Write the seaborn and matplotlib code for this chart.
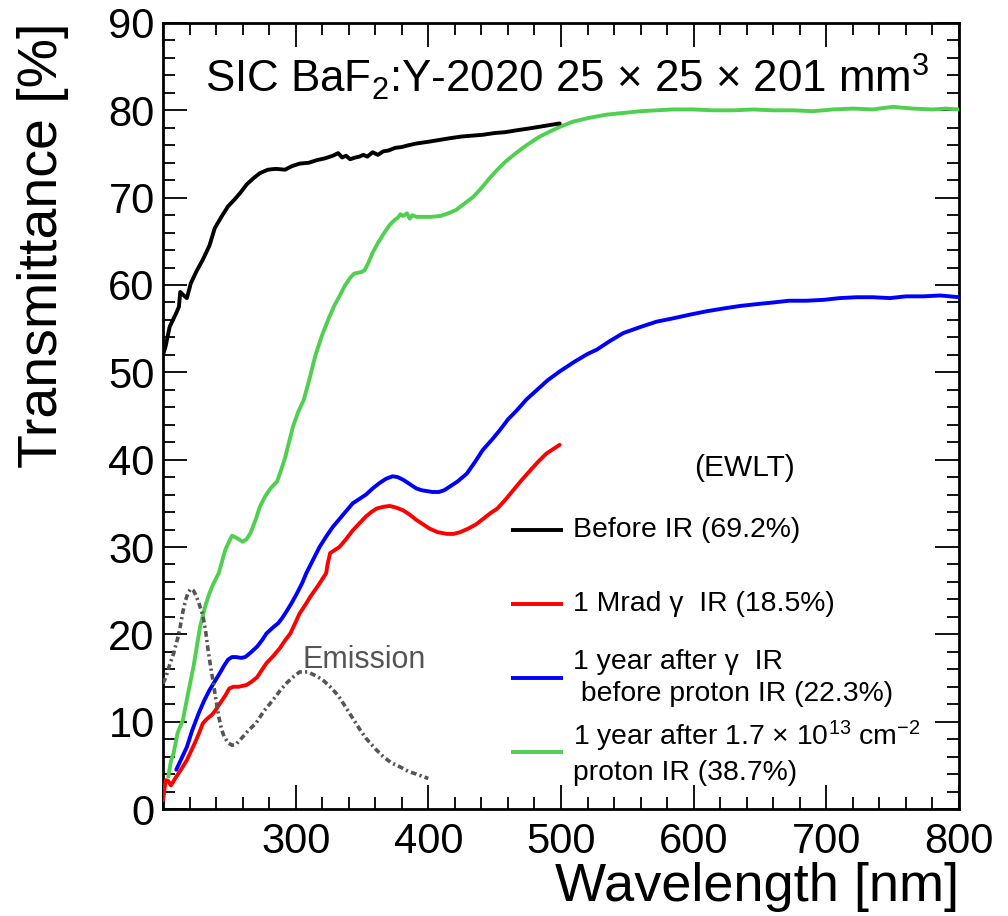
import numpy as np
import pandas as pd
import matplotlib
matplotlib.use("Agg")
import matplotlib.pyplot as plt
from matplotlib.ticker import MultipleLocator, FuncFormatter
import seaborn as sns

# ---- transmittance spectra (wavelength in nm, transmittance in %) ----
wl_before = [200, 202, 205, 210, 212, 213, 215, 218, 221, 225, 230, 235, 239, 244, 249,
             254, 258, 263, 268, 273, 279, 285, 292, 297, 303, 310, 316, 322, 328, 332,
             335, 338, 341, 345, 348, 351, 354, 358, 362, 366, 370, 375, 380, 385, 391,
             400, 408, 416, 425, 433, 441, 450, 458, 466, 475, 483, 491, 499]
t_before = [52.0, 53.0, 55.2, 56.8, 57.5, 59.2, 58.9, 58.5, 60.2, 61.5, 62.9, 64.5, 66.5,
            67.8, 69.0, 69.8, 70.5, 71.5, 72.2, 72.8, 73.2, 73.3, 73.2, 73.6, 73.9, 74.0,
            74.3, 74.5, 74.8, 75.1, 74.6, 74.8, 74.4, 74.6, 74.7, 74.9, 74.7, 75.2, 74.9,
            75.3, 75.4, 75.7, 75.8, 76.0, 76.2, 76.4, 76.6, 76.8, 77.0, 77.1, 77.2, 77.4,
            77.5, 77.7, 77.9, 78.1, 78.3, 78.5]

wl_gamma = [200, 202, 204, 206, 208, 210, 214, 218, 222, 225, 228, 230, 233, 237, 240,
            243, 247, 250, 253, 257, 260, 263, 267, 271, 274, 278, 283, 288, 292, 296,
            300, 303, 307, 311, 317, 323, 324, 326, 330, 333, 338, 343, 348, 353, 357,
            361, 366, 371, 376, 381, 386, 391, 396, 401, 407, 414, 419, 424, 430, 436,
            442, 447, 452, 458, 464, 470, 477, 483, 489, 494, 499]
t_gamma = [1.0, 3.3, 3.2, 2.7, 3.2, 3.7, 4.6, 5.6, 6.9, 7.9, 9.0, 9.8, 10.3, 10.8, 11.4,
           12.1, 13.0, 13.8, 14.0, 14.0, 14.1, 14.2, 14.6, 15.1, 15.8, 16.7, 17.5, 18.4,
           19.3, 20.1, 21.4, 22.4, 23.3, 24.3, 25.6, 27.0, 28.0, 29.3, 29.7, 30.0, 30.9,
           31.9, 32.7, 33.5, 34.0, 34.4, 34.6, 34.7, 34.5, 34.2, 33.7, 33.1, 32.6, 32.1,
           31.7, 31.5, 31.5, 31.7, 32.1, 32.6, 33.3, 33.9, 34.4, 35.4, 36.5, 37.6, 38.8,
           39.8, 40.7, 41.2, 41.7]

wl_year = [210, 214, 218, 222, 227, 231, 235, 239, 243, 246, 249, 252, 255, 259, 262,
           266, 271, 275, 278, 283, 287, 290, 293, 297, 301, 305, 308, 313, 318, 323,
           328, 333, 338, 343, 348, 353, 358, 363, 368, 373, 377, 381, 386, 391, 395,
           399, 403, 408, 412, 416, 422, 429, 435, 441, 448, 454, 460, 467, 474, 482,
           490, 499, 510, 520, 527, 537, 547, 560, 572, 585, 597, 610, 622, 635, 647,
           660, 672, 685, 698, 710, 723, 735, 748, 760, 773, 786, 800]
t_year = [4.5, 5.8, 7.1, 9.0, 11.0, 12.4, 13.6, 14.6, 15.6, 16.4, 17.1, 17.4, 17.4, 17.3,
          17.4, 17.9, 18.6, 19.4, 20.1, 20.8, 21.3, 21.9, 22.6, 23.6, 24.7, 25.9, 27.0,
          28.5, 30.0, 31.2, 32.3, 33.2, 34.1, 35.0, 35.5, 36.0, 36.7, 37.3, 37.8, 38.1,
          38.0, 37.7, 37.2, 36.7, 36.5, 36.4, 36.3, 36.3, 36.5, 36.9, 37.5, 38.4, 39.7,
          41.1, 42.3, 43.4, 44.6, 45.7, 46.9, 48.0, 49.1, 50.1, 51.2, 52.1, 52.6, 53.6,
          54.5, 55.2, 55.8, 56.2, 56.6, 57.0, 57.3, 57.6, 57.8, 58.0, 58.2, 58.2, 58.3,
          58.5, 58.6, 58.6, 58.5, 58.7, 58.7, 58.8, 58.6]

wl_proton = [204, 206, 208, 211, 215, 219, 223, 228, 232, 235, 238, 242, 247, 252, 256,
             260, 263, 266, 270, 273, 277, 281, 284, 286, 289, 292, 295, 298, 302, 306,
             310, 315, 320, 325, 329, 333, 337, 341, 344, 347, 350, 352, 355, 358, 362,
             366, 371, 375, 377, 379, 381, 384, 386, 388, 391, 396, 402, 409, 415, 421,
             427, 434, 440, 446, 452, 458, 466, 474, 484, 492, 499, 509, 520, 534, 547,
             560, 572, 584, 600, 615, 630, 645, 660, 675, 690, 705, 720, 735, 750, 765,
             780, 790, 800]
t_proton = [3.7, 5.5, 6.4, 8.7, 10.2, 13.3, 16.3, 20.9, 23.3, 24.7, 25.8, 27.0, 29.7,
            31.3, 31.0, 30.6, 30.9, 31.6, 33.2, 34.6, 35.8, 36.7, 37.2, 37.5, 38.8, 40.2,
            42.0, 43.8, 45.5, 46.8, 49.0, 52.0, 54.3, 56.2, 57.6, 58.7, 59.9, 60.8, 61.3,
            61.4, 61.5, 61.7, 62.6, 63.7, 64.8, 65.8, 66.9, 67.5, 67.7, 68.1, 67.9, 68.2,
            67.6, 68.0, 67.8, 67.8, 67.8, 67.9, 68.2, 68.6, 69.3, 70.1, 71.1, 72.2, 73.2,
            74.1, 75.1, 76.0, 77.0, 77.6, 78.1, 78.7, 79.1, 79.5, 79.7, 79.9, 80.0, 80.1,
            80.1, 80.0, 80.0, 80.1, 80.0, 80.0, 79.9, 80.1, 80.2, 80.1, 80.4, 80.2, 80.1,
            80.2, 80.1]

# ---- scintillation emission spectrum (arbitrary units) ----
wl_emission = [200, 202, 205, 208, 211, 213, 215, 217, 219, 221, 223, 225, 227, 230, 232,
               234, 236, 238, 240, 242, 244, 246, 249, 252, 255, 258, 261, 265, 270, 276,
               283, 288, 293, 298, 303, 309, 316, 321, 326, 332, 338, 343, 348, 353, 360,
               366, 372, 379, 385, 391, 396, 400]
i_emission = [14.4, 15.0, 16.5, 17.8, 19.5, 20.9, 22.6, 23.9, 24.8, 25.2, 25.0, 24.4, 23.6,
              22.2, 20.5, 18.2, 16.2, 14.4, 12.4, 10.6, 9.2, 8.3, 7.6, 7.3, 7.4, 7.9, 8.4,
              9.1, 9.8, 11.2, 12.5, 13.5, 14.4, 15.1, 15.7, 15.7, 15.2, 14.7, 14.0, 13.0,
              11.6, 10.4, 9.2, 8.1, 6.9, 6.0, 5.3, 4.8, 4.3, 4.0, 3.7, 3.5]

labels = ["Before IR (69.2%)",
          "1 Mrad γ  IR (18.5%)",
          "1 year after γ  IR\n before proton IR (22.3%)",
          "1 year after 1.7 × 10$^{13}$ cm$^{-2}$\nproton IR (38.7%)"]
colors = ["#000000", "#ff0000", "#0000ff", "#50d050"]
series_wl = [wl_before, wl_gamma, wl_year, wl_proton]
series_t = [t_before, t_gamma, t_year, t_proton]

frames = []
for lab, w, t in zip(labels, series_wl, series_t):
    frames.append(pd.DataFrame({"wavelength": w, "transmittance": t, "sample": lab}))
df = pd.concat(frames, ignore_index=True)
emis = pd.DataFrame({"wavelength": wl_emission, "intensity": i_emission})

sns.set_theme(style="ticks")
plt.rcParams["font.family"] = ["Liberation Sans", "DejaVu Sans"]
plt.rcParams["mathtext.fontset"] = "custom"
plt.rcParams["mathtext.rm"] = "Liberation Sans"
plt.rcParams["mathtext.it"] = "Liberation Sans:italic"
for key in ["text.color", "axes.labelcolor", "xtick.color", "ytick.color",
            "axes.edgecolor"]:
    plt.rcParams[key] = "black"

fig = plt.figure(figsize=(10.08, 9.16), dpi=100)
ax = fig.add_axes([0.1617, 0.1168, 0.7897, 0.8581])

lw = 2.8
draw_order = [3, 2, 1, 0]
for k in draw_order:
    sub = df[df["sample"] == labels[k]]
    sns.lineplot(data=sub, x="wavelength", y="transmittance", ax=ax, color=colors[k],
                 lw=lw, sort=False, estimator=None, legend=False, zorder=3 + (3 - k))

sns.lineplot(data=emis, x="wavelength", y="intensity", ax=ax, color="#555555",
             lw=2.6, sort=False, estimator=None, legend=False, zorder=8,
             linestyle=(0, (1.6, 0.9, 0.6, 0.9)))

# ---- axes styling ----
ax.set_xlim(200, 800)
ax.set_ylim(0, 90)
ax.xaxis.set_major_locator(MultipleLocator(100))
ax.xaxis.set_minor_locator(MultipleLocator(20))
ax.yaxis.set_major_locator(MultipleLocator(10))
ax.yaxis.set_minor_locator(MultipleLocator(2))
ax.xaxis.set_major_formatter(FuncFormatter(lambda v, p: "" if v <= 200 else f"{v:.0f}"))
ax.tick_params(which="both", direction="in", top=True, right=True, width=1.3,
               color="black")
ax.tick_params(which="major", length=17, labelsize=30)
ax.tick_params(which="minor", length=8.5)
ax.tick_params(axis="x", which="major", pad=9)
ax.tick_params(axis="y", which="major", pad=6)
for sp in ax.spines.values():
    sp.set_linewidth(2.0)
    sp.set_color("black")

ax.set_xlabel("Wavelength [nm]", fontsize=39, loc="right", labelpad=0)
ax.set_ylabel("Transmittance [%]", fontsize=40, loc="top", labelpad=28)

# ---- annotations ----
ax.text(0.053, 0.911, "SIC BaF$_2$:Y-2020 25 × 25 × 201 mm$^3$", transform=ax.transAxes,
        fontsize=31.6, ha="left", va="baseline")
ax.text(305, 17.1, "Emission", fontsize=22, color="#555555", ha="left", va="center")

# ---- legend ----
ax.text(0.731, 0.434, "(EWLT)", transform=ax.transAxes, fontsize=21.5,
        ha="center", va="center")
legend_y = [0.355, 0.2608, 0.1667, 0.0725]
for lab, col, yy in zip(labels, colors, legend_y):
    ax.plot([0.437, 0.5025], [yy, yy], transform=ax.transAxes, color=col, lw=lw,
            solid_capstyle="butt")
    ax.text(0.515, yy, lab, transform=ax.transAxes, fontsize=20.4, ha="left",
            va="center", linespacing=1.3)

fig.savefig("out.png", dpi=100)
